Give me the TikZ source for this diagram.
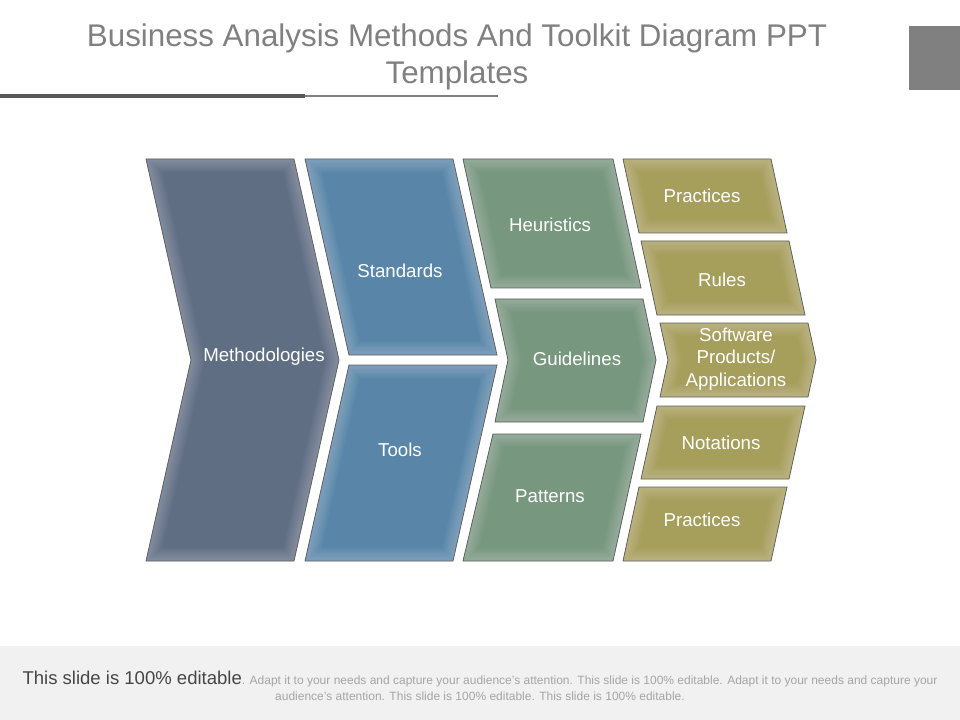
\documentclass[tikz,border=0pt]{standalone}
\usepackage{fontspec}
\setmainfont{Liberation Sans}
\usepackage{tikz}
\usetikzlibrary{calc}
\definecolor{methcol}{RGB}{95,110,131}
\definecolor{bluecol}{RGB}{89,134,168}
\definecolor{greencol}{RGB}{119,151,126}
\definecolor{olivecol}{RGB}{166,158,91}
\definecolor{panelgray}{RGB}{95,95,95}
\definecolor{titlegray}{RGB}{128,128,128}
\definecolor{footerbg}{RGB}{241,241,241}
\definecolor{footdark}{RGB}{70,70,70}
\definecolor{footlight}{RGB}{165,165,165}

% one panel: fill, soft inner glow, thin outline
\newcommand{\panel}[2]{%
  \begin{scope}
    \clip #2 -- cycle;
    \fill[#1] #2 -- cycle;
    \foreach \w in {2,4,...,20} {
      \draw[white, opacity=0.028, line width=\w pt] #2 -- cycle;
    }
  \end{scope}
  \draw[panelline] #2 -- cycle;
}

\begin{document}
\begin{tikzpicture}[
    x=0.75pt, y=-0.75pt,
    panelline/.style={draw=panelgray, line width=0.6pt, line join=miter},
    lbl/.style={text=white, font=\fontsize{14}{16.8}\selectfont, align=center},
    titletext/.style={text=titlegray, font=\fontsize{23.5}{28}\selectfont, align=center, inner sep=0pt},
    foot/.style={font=\fontsize{9}{12}\selectfont, align=center, inner sep=0pt}
]
\useasboundingbox (0,0) rectangle (960,720);

% Title and rules
\node[titletext, anchor=base] (title) at (457,84) {Business Analysis Methods And Toolkit Diagram PPT\\Templates};
\fill[footdark!90] (0,94) rectangle (305,98);
\draw[titlegray, line width=1.2pt] (305,96) -- (498,96);
\fill[titlegray] (909,26) rectangle (960,90);

% First column
\panel{methcol}{(146,159) -- (294,159) -- (339,360) -- (294,561) -- (146,561) -- (191,360)}

% Second column
\panel{bluecol}{(305,159) -- (453,159) -- (497,355) -- (349,355)}
\panel{bluecol}{(349,365) -- (497,365) -- (453,561) -- (305,561)}

% Third column
\panel{greencol}{(463,159) -- (613,159) -- (641,288) -- (491,288)}
\panel{greencol}{(495,299) -- (643,299) -- (656,360) -- (643,422) -- (495,422) -- (508,360)}
\panel{greencol}{(493,434) -- (641,434) -- (613,561) -- (463,561)}

% Fourth column
\panel{olivecol}{(623,159) -- (771,159) -- (787,233) -- (639,233)}
\panel{olivecol}{(641,241) -- (789,241) -- (805,315) -- (657,315)}
\panel{olivecol}{(660,323) -- (808,323) -- (816,360) -- (808,397) -- (660,397) -- (668,360)}
\panel{olivecol}{(657,406) -- (805,406) -- (789,479) -- (641,479)}
\panel{olivecol}{(639,487) -- (787,487) -- (771,561) -- (623,561)}

% Labels
\node[lbl] (meth) at (264,357) {Methodologies};
\node[lbl] (stand) at (400,271) {Standards};
\node[lbl] (tools) at (400,450) {Tools};
\node[lbl] (heur) at (550,225) {Heuristics};
\node[lbl] (guide) at (577,359) {Guidelines};
\node[lbl] (patt) at (550,496) {Patterns};
\node[lbl] (pracA) at (702,196) {Practices};
\node[lbl] (rules) at (722,280) {Rules};
\node[lbl] (soft) at (736,359) {Software\\Products/\\Applications};
\node[lbl] (nota) at (721,443) {Notations};
\node[lbl] (pracB) at (702,520) {Practices};

% Footer
\fill[footerbg] (0,646) rectangle (960,720);
\node[foot, anchor=base] (footer) at (480,700) {{\fontsize{13.9}{16}\selectfont\color{footdark}This slide is 100\% editable}\textcolor{footlight}{. Adapt it to your needs and capture your audience's attention. This slide is 100\% editable. Adapt it to your needs and capture your}\\\textcolor{footlight}{audience's attention. This slide is 100\% editable. This slide is 100\% editable.}};

\end{tikzpicture}
\end{document}
